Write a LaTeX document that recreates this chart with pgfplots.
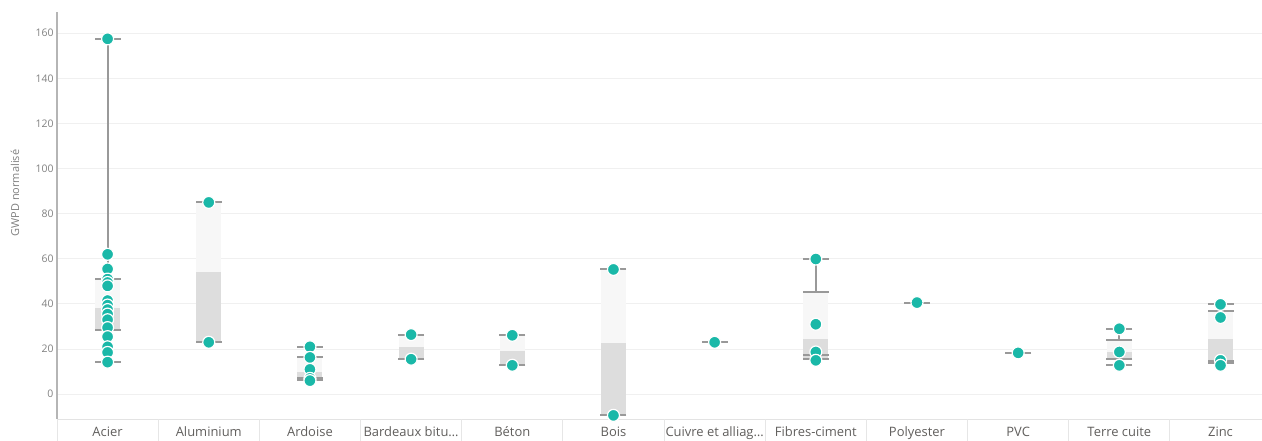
\documentclass[border=0pt]{standalone}
\usepackage{pgfplots}
\pgfplotsset{compat=1.18}
\usepackage{fontspec}
\setmainfont{Open Sans}
\definecolor{ptcol}{HTML}{1AB8A8}
\definecolor{boxlight}{HTML}{F7F7F7}
\definecolor{boxdark}{HTML}{DDDDDD}
\definecolor{capgray}{HTML}{999999}
\definecolor{gridgray}{HTML}{F0F0F0}
\definecolor{axgray}{HTML}{B5B5B5}
\definecolor{linegray}{HTML}{E3E3E3}
\definecolor{sepgray}{HTML}{E6E6E6}
\definecolor{labgray}{HTML}{605E5C}
\definecolor{tickgray}{HTML}{808080}

\pgfplotstableread{
x y
0 28.5
0 38
0 nan
1 23
1 54
1 nan
2 6.2
2 10
2 nan
3 15.5
3 20.9
3 nan
4 12.8
4 19.2
4 nan
5 -9.4
5 22.7
5 nan
7 15.5
7 24.6
7 nan
10 15.7
10 18.9
10 nan
11 13.8
11 24.4
}\darkbox

\pgfplotstableread{
x y
0 38
0 51
0 nan
1 54
1 85
1 nan
2 10
2 16.3
2 nan
3 20.9
3 26.4
3 nan
4 19.2
4 26.1
4 nan
5 22.7
5 55.3
5 nan
7 24.6
7 45.4
7 nan
10 18.9
10 24.2
10 nan
11 24.4
11 36.9
}\lightbox

\pgfplotstableread{
x y
0 51
0 157.5
0 nan
0 28.5
0 14.2
0 nan
2 16.3
2 21
2 nan
2 7.2
2 6.2
2 nan
7 45.4
7 59.9
7 nan
7 17.2
7 15.5
7 nan
10 24.2
10 29
10 nan
10 15.7
10 12.8
10 nan
11 36.9
11 39.8
11 nan
11 14.6
11 13.8
}\whisk

\pgfplotstableread{
x y
0 157.5
0 51
0 28.5
0 14.2
1 85
1 23
2 21
2 16.3
2 7.2
2 6.2
3 26.4
3 15.5
4 26.1
4 12.8
5 55.3
5 -9.4
6 23
7 59.9
7 45.4
7 17.2
7 15.5
8 40.6
9 18.3
10 29
10 24.2
10 15.7
10 12.8
11 39.8
11 36.9
11 14.6
11 13.8
}\caps

\pgfplotstableread{
x y
0 157.5
0 62
0 55.5
0 51
0 49.5
0 48
0 41.5
0 39.5
0 37.5
0 35.5
0 33
0 29.5
0 25.5
0 21
0 18.5
0 14.2
1 85
1 23
2 21
2 16.3
2 11
2 7
2 6
3 26.4
3 15.5
4 26.1
4 12.8
5 55.3
5 -9.4
6 23
7 59.9
7 31
7 18.7
7 15
8 40.6
9 18.3
10 29
10 18.7
10 12.8
11 39.8
11 34
11 15
11 12.8
}\pts

\begin{document}
\begin{tikzpicture}
\path[use as bounding box] (0,0) rectangle (1262bp,441bp);
\begin{axis}[
  at={(57bp,22bp)}, anchor=south west,
  scale only axis, width=1205bp, height=407bp,
  xmin=-0.5, xmax=11.41, ymin=-11, ymax=169.4,
  clip=false,
  axis x line*=bottom, axis y line*=left,
  x axis line style={draw=linegray, line width=1bp},
  y axis line style={draw=axgray, line width=1.2bp},
  xtick={0,...,11},
  xticklabels={Acier,Aluminium,Ardoise,Bardeaux bitu…,Béton,Bois,Cuivre et alliag…,Fibres-ciment,Polyester,PVC,Terre cuite,Zinc},
  xtick style={draw=none},
  extra x ticks={-0.5,0.5,1.5,2.5,3.5,4.5,5.5,6.5,7.5,8.5,9.5,10.5},
  extra x tick labels={},
  extra x tick style={xtick style={draw=sepgray, line width=1bp}, tick align=outside, major tick length=22bp, grid=none},
  ytick={0,20,...,160},
  ytick style={draw=none},
  ymajorgrids, grid style={draw=gridgray, line width=1bp},
  /pgf/number format/assume math mode=true,
  xticklabel style={font=\fontsize{13}{15}\selectfont, text=labgray, anchor=base, yshift=-17bp},
  yticklabel style={font=\fontsize{10.5}{12}\selectfont, text=tickgray},
  ylabel={GWPD normalisé},
  ylabel style={at={(axis description cs:-0.0349,0.555)}, anchor=center, rotate=0, font=\fontsize{11}{13}\selectfont, text=tickgray},
]
\addplot[draw=boxlight, line width=25bp, unbounded coords=jump, no markers] table {\lightbox};
\addplot[draw=boxdark, line width=25bp, unbounded coords=jump, no markers] table {\darkbox};
\addplot[draw=capgray, line width=2bp, unbounded coords=jump, no markers] table {\whisk};
\addplot[only marks, mark=-, mark size=13bp, mark options={draw=capgray, line width=2bp}] table {\caps};
\addplot[only marks, mark=*, mark size=6bp, mark options={fill=ptcol, draw=white, line width=1.2bp}] table {\pts};
\end{axis}
\end{tikzpicture}
\end{document}
